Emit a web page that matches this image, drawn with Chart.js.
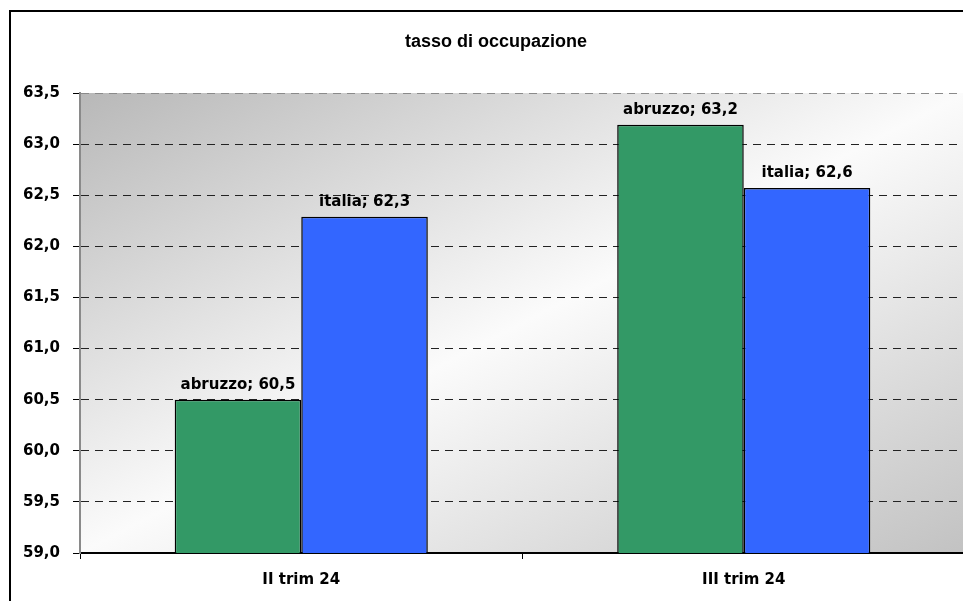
<!DOCTYPE html>
<html lang="it">
<head>
    <meta charset="UTF-8">
    <title>tasso di occupazione</title>
    <script src="https://cdn.jsdelivr.net/npm/chart.js"></script>
    <style>
        *{
            margin: 0;
            padding: 0;
        }
        body, html{
            width: 963px;
            height: 601px;
            overflow: hidden;
            background: white;
        }
        #chart{
            display: block;
        }
    </style>
</head>
<body>
    <canvas id="chart" width="980" height="615"></canvas>
    <script>
        // data
        const categories = ["II trim 24", "III trim 24"]
        const abruzzo = [60.5, 63.19]
        const italia = [62.29, 62.57]
        const yMin = 59
        const yMax = 63.5
        const yStep = 0.5
        const chartTitle = "tasso di occupazione"

        const boldFont = { family: "'DejaVu Sans', sans-serif", size: 15, weight: "bold" }
        const fmt = v => v.toFixed(1).replace(".", ",")

        // gray -> white -> gray diagonal fill of the plot area, plus outer frame and title
        const backdrop = {
            id: "backdrop",
            beforeDraw(chart){
                const ctx = chart.ctx
                const a = chart.chartArea
                const w = a.right - a.left, h = a.bottom - a.top
                const c = 2 / (1 / (w * w) + 1 / (h * h))
                const g = ctx.createLinearGradient(a.left, a.top, a.left + c / w, a.top + c / h)
                g.addColorStop(0, "#b8b8b8")
                g.addColorStop(0.5, "#fbfbfb")
                g.addColorStop(1, "#c2c2c2")
                ctx.save()
                ctx.fillStyle = g
                ctx.fillRect(a.left, a.top, w, h)
                ctx.lineWidth = 2
                ctx.strokeStyle = "#000"
                ctx.strokeRect(10, 11, 1000, 700)
                ctx.fillStyle = "#000"
                ctx.font = "bold 18px 'Liberation Sans', Arial, sans-serif"
                ctx.textAlign = "center"
                ctx.textBaseline = "alphabetic"
                ctx.fillText(chartTitle, 496, 47)
                ctx.restore()
            }
        }

        // "series; value" labels above each bar
        const barLabels = {
            id: "barLabels",
            afterDatasetsDraw(chart){
                const ctx = chart.ctx
                ctx.save()
                ctx.fillStyle = "#000"
                ctx.font = "bold 15px 'DejaVu Sans', sans-serif"
                ctx.textAlign = "center"
                ctx.textBaseline = "alphabetic"
                chart.data.datasets.forEach((ds, i) => {
                    chart.getDatasetMeta(i).data.forEach((bar, j) => {
                        ctx.fillText(ds.label + "; " + fmt(ds.data[j]), bar.x, bar.y - 11)
                    })
                })
                ctx.restore()
            }
        }

        const chart = new Chart(document.getElementById("chart"), {
            type: "bar",
            data: {
                labels: categories,
                datasets: [{
                    label: "abruzzo",
                    data: abruzzo,
                    backgroundColor: "#339966",
                    borderColor: "#000",
                    borderWidth: 1.5
                },
                {
                    label: "italia",
                    data: italia,
                    backgroundColor: "#3366ff",
                    borderColor: "#000",
                    borderWidth: 1.5
                }]
            },
            options: {
                responsive: false,
                animation: false,
                categoryPercentage: 0.572,
                barPercentage: 1,
                layout: { padding: { top: 93, left: 0, right: 15, bottom: 0 } },
                plugins: {
                    legend: { display: false },
                    tooltip: { enabled: false }
                },
                scales: {
                    x: {
                        offset: true,
                        afterFit: s => { s.height = 62 },
                        grid: {
                            offset: true,
                            drawOnChartArea: false,
                            tickLength: 6,
                            tickColor: "#000"
                        },
                        border: { color: "#000", width: 2 },
                        ticks: { color: "#000", font: boldFont, padding: 12 }
                    },
                    y: {
                        min: yMin,
                        max: yMax,
                        afterFit: s => { s.width = 80 },
                        grid: {
                            color: ctx => ctx.tick && ctx.tick.value === yMax ? "#8a8a8a" : "#222",
                            tickColor: "#000",
                            tickLength: 7,
                            tickBorderDash: []
                        },
                        border: { color: "#8a8a8a", width: 2, dash: [8, 6] },
                        ticks: {
                            stepSize: yStep,
                            color: "#000",
                            font: boldFont,
                            padding: 13,
                            callback: v => fmt(v)
                        }
                    }
                }
            },
            plugins: [backdrop, barLabels]
        })
    </script>
</body>
</html>
